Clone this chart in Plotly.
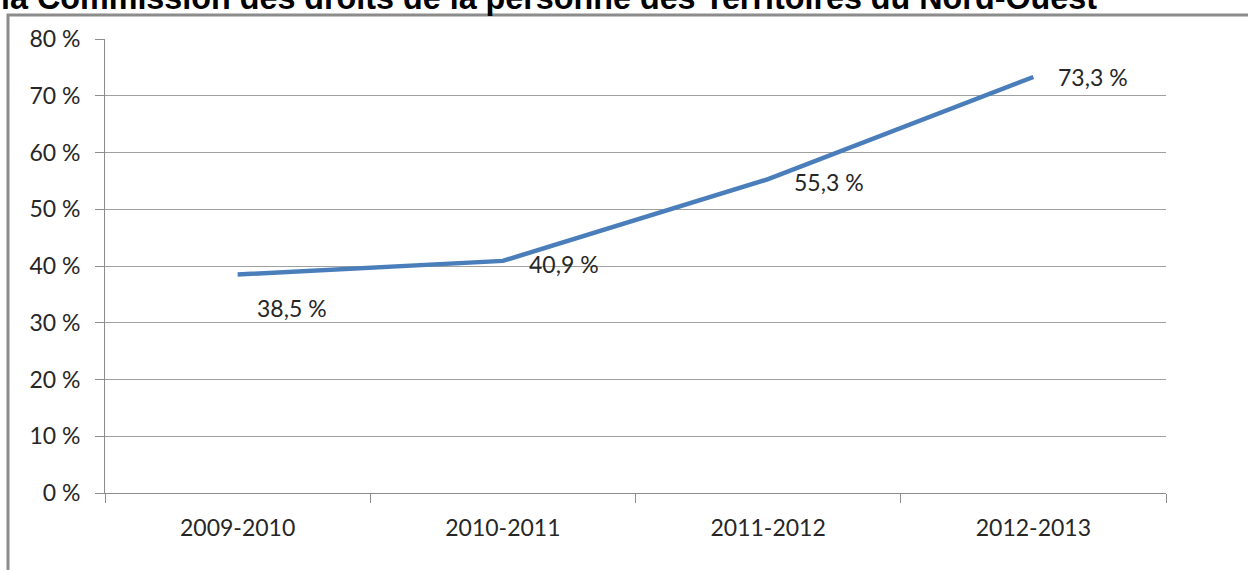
import plotly.graph_objects as go

title_text = "la Commission des droits de la personne des Territoires du Nord-Ouest"
categories = ["2009-2010", "2010-2011", "2011-2012", "2012-2013"]
values = [0.385, 0.409, 0.553, 0.733]
value_labels = ["38,5\u00a0%", "40,9\u00a0%", "55,3\u00a0%", "73,3\u00a0%"]
y_tick_vals = [0, 0.1, 0.2, 0.3, 0.4, 0.5, 0.6, 0.7, 0.8]
y_tick_text = ["0\u00a0%", "10\u00a0%", "20\u00a0%", "30\u00a0%", "40\u00a0%",
               "50\u00a0%", "60\u00a0%", "70\u00a0%", "80\u00a0%"]
# label offsets (pixels) relative to each point
label_xshift = [17, 24, 24, 23]
label_yshift = [-33, -3, -3, 0]

W, H = 1248, 570
L, R, T, B = 105, 82, 39, 77
pw, ph = W - L - R, H - T - B

def px_x(x):
    return (x - L) / pw

def px_y(y):
    return 1 + (T - y) / ph

fig = go.Figure()
fig.add_trace(go.Scatter(
    x=categories, y=values, mode="lines",
    line=dict(color="#4a7ebb", width=4.5),
    hoverinfo="skip", showlegend=False,
))

annotations = []
for c, v, t, xs, ys in zip(categories, values, value_labels, label_xshift, label_yshift):
    annotations.append(dict(
        x=c, y=v, xref="x", yref="y", text=t, showarrow=False,
        xanchor="left", yanchor="middle", xshift=xs, yshift=ys,
        font=dict(family="Lato", size=23, color="#262626"),
    ))

annotations.append(dict(
    x=px_x(-1), y=px_y(-2), xref="paper", yref="paper", text="<b>" + title_text + "</b>",
    showarrow=False, xanchor="left", yanchor="middle",
    font=dict(family="Liberation Sans", size=32.3, color="#000000"),
))

fig.update_layout(
    width=W, height=H,
    margin=dict(l=L, r=R, t=T, b=B, pad=0),
    paper_bgcolor="white", plot_bgcolor="white",
    annotations=annotations,
    shapes=[dict(
        type="rect", xref="paper", yref="paper", layer="above",
        x0=px_x(8), x1=px_x(W + 20), y0=px_y(H + 20), y1=px_y(15),
        line=dict(color="#8c8c8c", width=3), fillcolor="rgba(0,0,0,0)",
    )],
    xaxis=dict(
        type="category", range=[-0.5, 3.5], tickson="boundaries",
        ticks="outside", ticklen=9, tickcolor="#8c8c8c", tickwidth=1,
        showline=True, linecolor="#8c8c8c", linewidth=1,
        showgrid=False, zeroline=False,
        tickfont=dict(family="Lato", size=23, color="#262626"),
        ticklabelstandoff=14,
    ),
    yaxis=dict(
        range=[0, 0.8], tickvals=y_tick_vals, ticktext=y_tick_text,
        ticks="outside", ticklen=9, tickcolor="#8c8c8c", tickwidth=1,
        showline=True, linecolor="#8c8c8c", linewidth=1,
        showgrid=True, gridcolor="#a0a0a0", gridwidth=1, zeroline=False,
        tickfont=dict(family="Lato", size=23, color="#262626"),
        ticklabelstandoff=10,
    ),
)

fig.write_html(
    "out.html",
    config={"displayModeBar": False},
    post_script="document.body.style.margin='0';document.body.style.overflow='hidden';",
)
